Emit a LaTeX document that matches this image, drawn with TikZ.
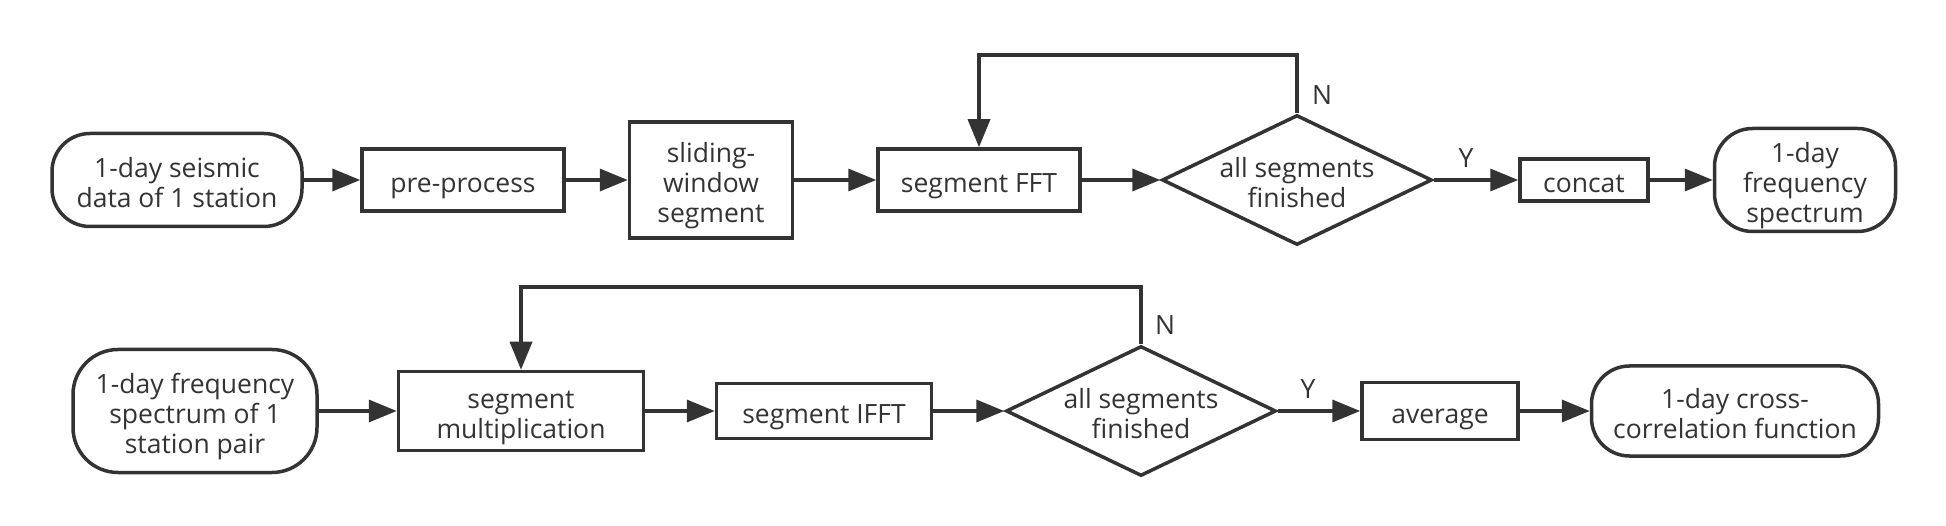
\documentclass[tikz,border=0pt]{standalone}
\usepackage{fontspec}
\setmainfont{Open Sans}
\usetikzlibrary{shapes.geometric,arrows.meta}
\definecolor{ink}{HTML}{333333}
\newcommand\tline[1]{\rule[-2.5pt]{0pt}{30pt}\smash{#1}}
\begin{document}
\begin{tikzpicture}[x=1pt,y=-1pt,
  every node/.style={font=\fontsize{26.5}{30}\selectfont, text=ink},
  box/.style={draw=ink, line width=3.5pt, rectangle, inner sep=0pt, align=center},
  term/.style={draw=ink, line width=3.5pt, rectangle, rounded corners=38pt, inner sep=0pt, align=center},
  dia/.style={draw=ink, line width=3.5pt, diamond, inner sep=0pt, minimum width=270pt, minimum height=130pt},
  flow/.style={draw=ink, line width=3.5pt, -{Triangle[length=28pt,width=22pt]}},
]
\useasboundingbox (0,0) rectangle (1946,526);
% top row
\node[term, minimum width=250pt, minimum height=93pt] (s1) at (177,180) {\tline{1-day seismic}\\\tline{data of 1 station}};
\node[box, minimum width=202pt, minimum height=62pt] (pre) at (463,180) {\tline{pre-process}};
\node[box, minimum width=163pt, minimum height=116pt] (slide) at (711,180) {\tline{sliding-}\\\tline{window}\\\tline{segment}};
\node[box, minimum width=202pt, minimum height=62pt] (fft) at (979,180) {\tline{segment FFT}};
\node[dia, label={[align=center]center:\tline{all segments}\\\tline{finished}}] (d1) at (1297,180) {};
\node[box, minimum width=128pt, minimum height=42pt] (cat) at (1584,180) {\tline{concat}};
\node[term, minimum width=181pt, minimum height=103pt] (e1) at (1805,180) {\tline{1-day}\\\tline{frequency}\\\tline{spectrum}};
% bottom row
\node[term, minimum width=244pt, minimum height=123pt, rounded corners=45pt] (s2) at (195,411) {\tline{1-day frequency}\\\tline{spectrum of 1}\\\tline{station pair}};
\node[box, minimum width=245pt, minimum height=79pt] (mul) at (521,411) {\tline{segment}\\\tline{multiplication}};
\node[box, minimum width=215pt, minimum height=55pt] (ifft) at (824,411) {\tline{segment IFFT}};
\node[dia, label={[align=center]center:\tline{all segments}\\\tline{finished}}] (d2) at (1141,411) {};
\node[box, minimum width=156pt, minimum height=57pt] (avg) at (1440,411) {\tline{average}};
\node[term, minimum width=287pt, minimum height=90pt] (e2) at (1735,411) {\tline{1-day cross-}\\\tline{correlation function}};
% labels
\node (n1) at (1322,95) {N};
\node (y1) at (1466,158) {Y};
\node (n2) at (1165,325) {N};
\node (y2) at (1308,389) {Y};
% loop coordinates
\coordinate (t1) at (0,55);
\coordinate (t2) at (0,287);
% connectors
\draw[flow] (s1) -- (pre);
\draw[flow] (pre) -- (slide);
\draw[flow] (slide) -- (fft);
\draw[flow] (fft) -- (d1);
\draw[flow] (d1) -- (cat);
\draw[flow] (cat) -- (e1);
\draw[flow] (d1.north) -- (d1.north |- t1) -| (fft.north);
\draw[flow] (s2) -- (mul);
\draw[flow] (mul) -- (ifft);
\draw[flow] (ifft) -- (d2);
\draw[flow] (d2) -- (avg);
\draw[flow] (avg) -- (e2);
\draw[flow] (d2.north) -- (d2.north |- t2) -| (mul.north);
\end{tikzpicture}
\end{document}
